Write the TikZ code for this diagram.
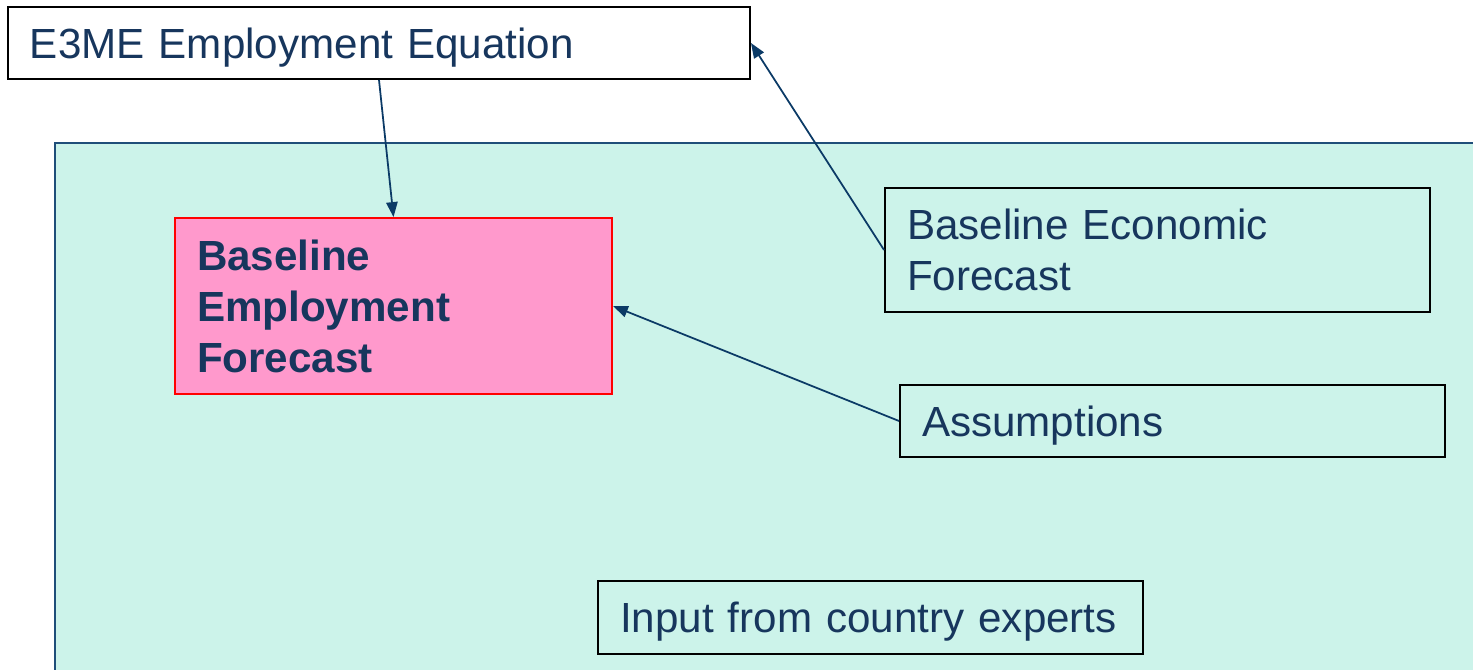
\documentclass[tikz,border=0pt]{standalone}
\usepackage{fontspec}
\setmainfont{Liberation Sans}
\usetikzlibrary{arrows.meta}
\definecolor{mint}{HTML}{CCF3EA}
\definecolor{pinkbox}{HTML}{FF99CC}
\definecolor{navytext}{HTML}{17365D}
\definecolor{arrowblue}{HTML}{0B3A66}
\definecolor{frameblue}{HTML}{1F4E79}
\tikzset{
  box/.style={draw=black, line width=1.1pt, rectangle, align=left,
    inner xsep=0.44cm, inner ysep=0pt, text=navytext,
    font=\fontsize{24}{29}\selectfont},
  oneline/.style={text depth=0pt},
  plainbox/.style={box, fill=mint},
  keybox/.style={box, fill=pinkbox, draw=red, font=\fontsize{24}{29}\selectfont\bfseries},
  link/.style={-{Triangle[length=8.5pt,width=6.5pt]}, draw=arrowblue, line width=1pt}
}
\begin{document}
\begin{tikzpicture}[x=0.02cm, y=-0.02cm]
  \useasboundingbox (0,0) rectangle (1473,669);
  % shaded region
  \draw[fill=mint, draw=frameblue, line width=1.2pt] (55,143) rectangle (1476,672);

  \node[box, oneline, fill=white, text width=698*0.02cm, minimum height=72*0.02cm] (eqn) at (379,43) {E3ME Employment Equation};
  \node[keybox, text width=393*0.02cm, minimum height=176*0.02cm] (bef) at (393.5,306) {Baseline\\Employment\\Forecast};
  \node[plainbox, text width=501*0.02cm, minimum height=124*0.02cm] (econ) at (1157.5,250) {Baseline Economic\\Forecast};
  \node[plainbox, oneline, text width=501*0.02cm, minimum height=72*0.02cm] (assum) at (1172.5,421) {Assumptions};
  \node[plainbox, oneline, text width=501*0.02cm, minimum height=73*0.02cm] (experts) at (870.5,617.5) {Input from country experts};

  \draw[link] (eqn.south) -- (bef.north);
  \draw[link] (econ.west) -- (eqn.east);
  \draw[link] (assum.west) -- (bef.east);
\end{tikzpicture}
\end{document}
